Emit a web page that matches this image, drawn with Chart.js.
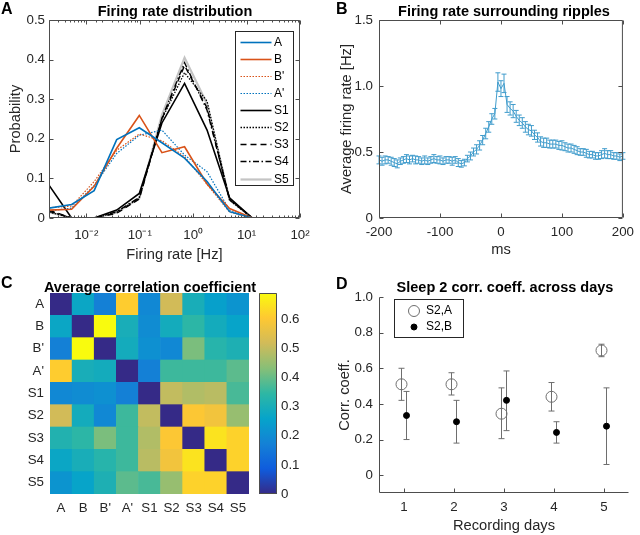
<!DOCTYPE html>
<html lang="en">
<head>
<meta charset="UTF-8">
<title>Firing rates and correlations</title>
<script src="https://cdn.jsdelivr.net/npm/chart.js"></script>
<style>
    body { margin: 0; background: #fff; font-family: "Liberation Sans", Arial, sans-serif; }
    .fig { position: relative; width: 640px; height: 535px; overflow: hidden; }
    .fig canvas { position: absolute; }
    .letter { position: absolute; font-weight: bold; font-size: 16px; line-height: 1; color: #000; }
    .ttl { position: absolute; width: 300px; font-weight: bold; font-size: 14.5px; line-height: 1; color: #000; text-align: center; white-space: nowrap; }
</style>
</head>
<body>
<div class="fig">
    <canvas id="chartA" width="320" height="265" style="left:0;top:0"></canvas>
    <canvas id="chartB" width="320" height="265" style="left:320px;top:0"></canvas>
    <canvas id="chartC" width="255" height="270" style="left:0;top:265px"></canvas>
    <canvas id="chartCbar" width="70" height="270" style="left:250px;top:265px"></canvas>
    <canvas id="chartD" width="320" height="270" style="left:320px;top:265px"></canvas>

    <div class="letter" style="left:1px;top:1px">A</div>
    <div class="letter" style="left:336px;top:1px">B</div>
    <div class="letter" style="left:1px;top:275px">C</div>
    <div class="letter" style="left:336px;top:276px">D</div>

    <div class="ttl" style="left:25px;top:4px">Firing rate distribution</div>
    <div class="ttl" style="left:354px;top:4px">Firing rate surrounding ripples</div>
    <div class="ttl" style="left:0px;top:280px">Average correlation coefficient</div>
    <div class="ttl" style="left:355px;top:280px">Sleep 2 corr. coeff. across days</div>
</div>

<script>
// ---- A: firing rate distribution (log-spaced bins) ----
const rateBins = [0.002, 0.0053, 0.014, 0.037, 0.098, 0.26, 0.69, 1.82, 4.8, 12.8];
const probA  = [0.025, 0.034, 0.069, 0.198, 0.228, 0.190, 0.151, 0.092, 0.016, 0];
const probB  = [0.020, 0.022, 0.080, 0.176, 0.259, 0.165, 0.180, 0.086, 0.024, 0];
const probB2 = [0.026, 0.030, 0.092, 0.171, 0.212, 0.195, 0.155, 0.085, 0.015, 0];
const probA2 = [0.018, 0.025, 0.082, 0.163, 0.209, 0.222, 0.159, 0.117, 0.020, 0];
const probS1 = [0.083, 0, 0, 0.020, 0.062, 0.240, 0.340, 0.222, 0.051, 0];
const probS2 = [0.015, 0, 0, 0.015, 0.050, 0.250, 0.367, 0.295, 0.045, 0];
const probS3 = [0.020, 0, 0, 0.012, 0.048, 0.250, 0.385, 0.278, 0.046, 0];
const probS4 = [0.017, 0, 0, 0.016, 0.052, 0.252, 0.392, 0.272, 0.048, 0];
const probS5 = [0.015, 0, 0, 0.014, 0.050, 0.260, 0.405, 0.288, 0.046, 0];

// ---- B: firing rate around ripples, 5 ms bins from -200 to 200 ----
const rateB = [
    0.44, 0.43, 0.44, 0.44, 0.43, 0.42, 0.41, 0.43, 0.44, 0.45, 0.44, 0.45, 0.44, 0.44, 0.43,
    0.44, 0.43, 0.44, 0.45, 0.44, 0.44, 0.43, 0.44, 0.44, 0.43, 0.44, 0.42, 0.41, 0.42,
    0.45, 0.47, 0.50, 0.52, 0.55, 0.59, 0.64, 0.69, 0.75, 0.79,
    1.03, 0.98, 1.02,
    0.86, 0.83, 0.81, 0.77, 0.74, 0.72, 0.69, 0.67, 0.66, 0.63, 0.61, 0.58, 0.57,
    0.57, 0.56, 0.56, 0.56, 0.55, 0.55, 0.54, 0.53, 0.53, 0.52, 0.51, 0.50, 0.50,
    0.49, 0.48, 0.48, 0.47, 0.47, 0.48, 0.49, 0.48, 0.48, 0.47, 0.47, 0.46, 0.47
];
const semB = [
    0.03, 0.03, 0.03, 0.025, 0.03, 0.03, 0.03, 0.025, 0.025, 0.03, 0.03, 0.025, 0.03, 0.025, 0.025,
    0.03, 0.025, 0.025, 0.03, 0.025, 0.03, 0.025, 0.025, 0.025, 0.03, 0.025, 0.03, 0.025, 0.025,
    0.025, 0.03, 0.03, 0.035, 0.035, 0.035, 0.04, 0.04, 0.04, 0.04,
    0.07, 0.06, 0.07,
    0.06, 0.05, 0.05, 0.045, 0.04, 0.04, 0.04, 0.04, 0.04, 0.035, 0.035, 0.035, 0.035,
    0.035, 0.03, 0.03, 0.03, 0.03, 0.035, 0.03, 0.03, 0.03, 0.03, 0.03, 0.025, 0.025,
    0.03, 0.025, 0.025, 0.025, 0.025, 0.03, 0.035, 0.03, 0.03, 0.025, 0.025, 0.025, 0.025
];
const lagMs = rateB.map((_, i) => -200 + 5 * i);

// ---- C: correlation matrix ----
const epochLabels = ['A', 'B', "B'", "A'", 'S1', 'S2', 'S3', 'S4', 'S5'];
const corrMatrix = [
    [0.00, 0.27, 0.17, 0.61, 0.19, 0.52, 0.30, 0.25, 0.22],
    [0.27, 0.00, 0.69, 0.30, 0.20, 0.29, 0.34, 0.29, 0.26],
    [0.17, 0.69, 0.00, 0.29, 0.21, 0.19, 0.42, 0.33, 0.31],
    [0.61, 0.30, 0.29, 0.00, 0.17, 0.36, 0.36, 0.36, 0.39],
    [0.19, 0.20, 0.21, 0.17, 0.00, 0.50, 0.48, 0.49, 0.37],
    [0.52, 0.29, 0.19, 0.36, 0.50, 0.00, 0.60, 0.58, 0.45],
    [0.32, 0.34, 0.42, 0.36, 0.48, 0.60, 0.00, 0.65, 0.62],
    [0.27, 0.30, 0.33, 0.36, 0.49, 0.58, 0.65, 0.00, 0.62],
    [0.22, 0.26, 0.31, 0.39, 0.37, 0.45, 0.62, 0.62, 0.00]
];
const colorbarTicks = [0, 0.1, 0.2, 0.3, 0.4, 0.5, 0.6];

// ---- D: sleep 2 correlation across days ----
const days = [1, 2, 3, 4, 5];
const s2aMean = [0.51, 0.51, 0.345, 0.44, 0.70];
const s2aLo   = [0.42, 0.45, 0.205, 0.36, 0.665];
const s2aHi   = [0.60, 0.575, 0.49, 0.52, 0.735];
const s2bMean = [0.335, 0.30, 0.42, 0.24, 0.275];
const s2bLo   = [0.20, 0.18, 0.25, 0.18, 0.06];
const s2bHi   = [0.47, 0.42, 0.585, 0.30, 0.49];

Chart.defaults.font.family = '"Liberation Sans", Arial, Helvetica, sans-serif';
Chart.defaults.font.size = 13.3;
Chart.defaults.color = '#262626';
Chart.defaults.animation = false;
Chart.defaults.responsive = false;
Chart.defaults.plugins.legend.display = false;
Chart.defaults.plugins.tooltip.enabled = false;

const axisFont = { size: 14.7 };
const noGrid = { display: false, drawTicks: false };
const noBorder = { display: false };

// parula colormap
const parulaStops = ['#352A87', '#0F5CDD', '#1481D6', '#06A4CA', '#2EB7A4', '#87BF77', '#D1BB59', '#FEC832', '#F9FB0E'];
function hexRgb(h) {
    return [1, 3, 5].map(k => parseInt(h.substr(k, 2), 16));
}
function parula(t) {
    t = Math.min(1, Math.max(0, t)) * (parulaStops.length - 1);
    const i = Math.min(Math.floor(t), parulaStops.length - 2);
    const f = t - i;
    const a = hexRgb(parulaStops[i]), b = hexRgb(parulaStops[i + 1]);
    return 'rgb(' + a.map((v, k) => Math.round(v + (b[k] - v) * f)).join(',') + ')';
}

// matlab style axes: box lines and inward ticks
function axesBox(cfg) {
    return {
        id: 'axesBox',
        afterDatasetsDraw(chart) {
            const { ctx, chartArea: a, scales } = chart;
            const L = a.left + 0.5, R = a.right - 0.5, T = a.top + 0.5, B = a.bottom - 0.5;
            ctx.save();
            ctx.strokeStyle = cfg.color || '#4d4d4d';
            ctx.lineWidth = 1;
            ctx.beginPath();
            ctx.moveTo(L, T); ctx.lineTo(L, B); ctx.lineTo(R, B);
            if (cfg.box) { ctx.lineTo(R, T); ctx.lineTo(L, T); }
            if (!cfg.noTicks) {
                scales.x.ticks.forEach(t => {
                    const px = Math.round(scales.x.getPixelForValue(t.value)) + 0.5;
                    const len = cfg.minorX && cfg.minorX(t.value) ? 2 : 4;
                    ctx.moveTo(px, B); ctx.lineTo(px, B - len);
                    if (cfg.box) { ctx.moveTo(px, T); ctx.lineTo(px, T + len); }
                });
                scales.y.ticks.forEach(t => {
                    const py = Math.round(scales.y.getPixelForValue(t.value)) + 0.5;
                    ctx.moveTo(L, py); ctx.lineTo(L + 4, py);
                    if (cfg.box) { ctx.moveTo(R, py); ctx.lineTo(R - 4, py); }
                });
            }
            ctx.stroke();
            ctx.restore();
        }
    };
}

// error bars from dataset errLo / errHi
const errorBars = {
    id: 'errorBars',
    beforeDatasetsDraw(chart) {
        const { ctx } = chart;
        const ys = chart.scales.y;
        chart.data.datasets.forEach((ds, i) => {
            if (!ds.errLo) return;
            const meta = chart.getDatasetMeta(i);
            const c = ds.capHalf;
            ctx.save();
            ctx.strokeStyle = ds.errColor;
            ctx.lineWidth = 1;
            ctx.beginPath();
            meta.data.forEach((pt, j) => {
                const x = pt.x;
                const lo = ys.getPixelForValue(ds.errLo[j]);
                const hi = ys.getPixelForValue(ds.errHi[j]);
                ctx.moveTo(x, lo); ctx.lineTo(x, hi);
                ctx.moveTo(x - c, lo); ctx.lineTo(x + c, lo);
                ctx.moveTo(x - c, hi); ctx.lineTo(x + c, hi);
            });
            ctx.stroke();
            ctx.restore();
        });
    }
};

// ---------- Panel A ----------
const supMap = { '-': '\u207B', '0': '\u2070', '1': '\u00B9', '2': '\u00B2', '3': '\u00B3' };
function isPow10(v) {
    const e = Math.log10(v);
    return Math.abs(e - Math.round(e)) < 1e-6;
}
function seriesA(label, values, color, width, dash) {
    return {
        label: label,
        data: rateBins.map((x, i) => ({ x: x, y: values[i] })),
        borderColor: color,
        borderWidth: width,
        borderDash: dash,
        pointRadius: 0,
        fill: false,
        tension: 0
    };
}
const legendA = {
    id: 'legendA',
    afterDraw(chart) {
        const { ctx, chartArea: a } = chart;
        const w = 58, h = 154, x0 = a.right - 7 - w, y0 = a.top + 11;
        ctx.save();
        ctx.fillStyle = '#fff';
        ctx.fillRect(x0, y0, w, h);
        ctx.strokeStyle = '#262626';
        ctx.lineWidth = 1;
        ctx.strokeRect(x0 + 0.5, y0 + 0.5, w, h);
        ctx.font = '12px "Liberation Sans", Arial, sans-serif';
        ctx.textBaseline = 'middle';
        chart.data.datasets.forEach((ds, i) => {
            const y = Math.round(y0 + 10.7 + i * 17.1) + 0.5;
            ctx.strokeStyle = ds.borderColor;
            ctx.lineWidth = ds.borderWidth;
            ctx.setLineDash(ds.borderDash || []);
            ctx.beginPath();
            ctx.moveTo(x0 + 5.5, y);
            ctx.lineTo(x0 + 36.5, y);
            ctx.stroke();
            ctx.setLineDash([]);
            ctx.fillStyle = '#000';
            ctx.fillText(ds.label, x0 + 39, y);
        });
        ctx.restore();
    }
};

new Chart(document.getElementById('chartA'), {
    type: 'line',
    data: {
        datasets: [
            seriesA('A', probA, '#0072BD', 1.6, []),
            seriesA('B', probB, '#D95319', 1.6, []),
            seriesA("B'", probB2, '#D95319', 1.2, [1.5, 1.5]),
            seriesA("A'", probA2, '#0072BD', 1.2, [1.5, 1.5]),
            seriesA('S1', probS1, '#000000', 1.6, []),
            seriesA('S2', probS2, '#000000', 1.3, [1.5, 1.5]),
            seriesA('S3', probS3, '#000000', 1.4, [6, 4]),
            seriesA('S4', probS4, '#000000', 1.4, [6, 2.5, 1.5, 2.5]),
            seriesA('S5', probS5, '#c4c4c4', 2.2, [])
        ]
    },
    options: {
        layout: { padding: { top: 20, right: 20, bottom: 0, left: 0 } },
        scales: {
            x: {
                type: 'logarithmic', min: 0.002, max: 100,
                grid: noGrid, border: noBorder,
                afterFit(s) { s.height = 47; },
                ticks: {
                    autoSkip: false, maxRotation: 0, padding: 9,
                    callback(v) {
                        if (!isPow10(v)) return '';
                        const e = String(Math.round(Math.log10(v)));
                        return '10' + e.split('').map(c => supMap[c]).join('');
                    }
                },
                title: { display: true, text: 'Firing rate [Hz]', font: axisFont, padding: { top: 0, bottom: 1 } }
            },
            y: {
                min: 0, max: 0.5,
                grid: noGrid, border: noBorder,
                afterFit(s) { s.width = 49; },
                ticks: { stepSize: 0.1, padding: 4 },
                title: { display: true, text: 'Probability', font: axisFont, padding: { top: 7, bottom: 0 } }
            }
        }
    },
    plugins: [axesBox({ box: true, minorX: v => !isPow10(v) }), legendA]
});

// ---------- Panel B ----------
const blueB = 'rgb(64,156,204)';
new Chart(document.getElementById('chartB'), {
    type: 'line',
    data: {
        datasets: [{
            label: 'Average firing rate',
            data: lagMs.map((x, i) => ({ x: x, y: rateB[i] })),
            borderColor: blueB,
            borderWidth: 1,
            pointRadius: 0,
            tension: 0,
            errLo: rateB.map((v, i) => v - semB[i]),
            errHi: rateB.map((v, i) => v + semB[i]),
            errColor: blueB,
            capHalf: 2.5
        }]
    },
    options: {
        layout: { padding: { top: 20, right: 11, bottom: 0, left: 0 } },
        scales: {
            x: {
                type: 'linear', min: -200, max: 200,
                grid: noGrid, border: noBorder,
                afterFit(s) { s.height = 47; },
                ticks: { stepSize: 100, maxRotation: 0, padding: 6 },
                title: { display: true, text: 'ms', font: axisFont, padding: { top: 0, bottom: 6 } }
            },
            y: {
                min: 0, max: 1.5,
                grid: noGrid, border: noBorder,
                afterFit(s) { s.width = 59; },
                ticks: { stepSize: 0.5, padding: 6 },
                title: { display: true, text: 'Average firing rate [Hz]', font: axisFont, padding: { top: 18, bottom: 0 } }
            }
        }
    },
    plugins: [errorBars, axesBox({ box: true })]
});

// ---------- Panel C: heatmap as stacked cells ----------
const cMax = Math.max(...corrMatrix.flat());
const heatSets = [];
for (let r = epochLabels.length - 1; r >= 0; r--) {
    heatSets.push({
        label: epochLabels[r],
        data: epochLabels.map(() => 1),
        backgroundColor: corrMatrix[r].map(v => parula(v / cMax)),
        borderWidth: 0,
        barPercentage: 1,
        categoryPercentage: 1
    });
}
new Chart(document.getElementById('chartC'), {
    type: 'bar',
    data: { labels: epochLabels, datasets: heatSets },
    options: {
        layout: { padding: { top: 28, right: 6, bottom: 0, left: 0 } },
        scales: {
            x: {
                stacked: true, grid: noGrid, border: noBorder,
                afterFit(s) { s.height = 41; },
                ticks: { maxRotation: 0, autoSkip: false, padding: 6 }
            },
            y: {
                stacked: true, min: 0, max: epochLabels.length,
                grid: noGrid, border: noBorder,
                afterFit(s) { s.width = 50; },
                afterBuildTicks(s) {
                    s.ticks = epochLabels.map((_, i) => ({ value: epochLabels.length - 0.5 - i }));
                },
                ticks: { autoSkip: false, padding: 6, callback: (v, i) => epochLabels[i] }
            }
        }
    }
});

// colorbar
new Chart(document.getElementById('chartCbar'), {
    type: 'bar',
    data: {
        labels: [''],
        datasets: [{
            data: [cMax],
            borderWidth: 0,
            barPercentage: 1,
            categoryPercentage: 1,
            backgroundColor(c) {
                const a = c.chart.chartArea;
                if (!a) return null;
                const g = c.chart.ctx.createLinearGradient(0, a.bottom, 0, a.top);
                parulaStops.forEach((s, i) => g.addColorStop(i / (parulaStops.length - 1), s));
                return g;
            }
        }]
    },
    options: {
        layout: { padding: { top: 28, right: 0, bottom: 41, left: 9 } },
        scales: {
            x: { display: false },
            y: {
                position: 'right', min: 0, max: cMax,
                grid: noGrid, border: noBorder,
                afterFit(s) { s.width = 43; },
                afterBuildTicks(s) { s.ticks = colorbarTicks.map(v => ({ value: v })); },
                ticks: { padding: 4 }
            }
        }
    },
    plugins: [axesBox({ box: true, noTicks: true })]
});

// ---------- Panel D ----------
const legendD = {
    id: 'legendD',
    afterDraw(chart) {
        const { ctx, chartArea: a } = chart;
        const x0 = a.left + 15, y0 = a.top + 2, w = 69, h = 38;
        ctx.save();
        ctx.fillStyle = '#fff';
        ctx.fillRect(x0, y0, w, h);
        ctx.strokeStyle = '#262626';
        ctx.lineWidth = 1;
        ctx.strokeRect(x0 + 0.5, y0 + 0.5, w, h);
        ctx.font = '12px "Liberation Sans", Arial, sans-serif';
        ctx.textBaseline = 'middle';
        chart.data.datasets.forEach((ds, i) => {
            const y = y0 + 12 + i * 16;
            ctx.beginPath();
            ctx.arc(x0 + 20, y, ds.pointRadius, 0, 2 * Math.PI);
            ctx.fillStyle = ds.pointBackgroundColor;
            ctx.fill();
            ctx.strokeStyle = ds.pointBorderColor;
            ctx.lineWidth = ds.pointBorderWidth;
            ctx.stroke();
            ctx.fillStyle = '#000';
            ctx.fillText(ds.label, x0 + 32, y);
        });
        ctx.restore();
    }
};
new Chart(document.getElementById('chartD'), {
    type: 'scatter',
    data: {
        datasets: [
            {
                label: 'S2,A',
                data: days.map((d, i) => ({ x: d - 0.05, y: s2aMean[i] })),
                pointRadius: 5.5,
                pointBackgroundColor: 'rgba(255,255,255,0)',
                pointBorderColor: '#6e6e6e',
                pointBorderWidth: 1,
                errLo: s2aLo, errHi: s2aHi, errColor: '#6e6e6e', capHalf: 3
            },
            {
                label: 'S2,B',
                data: days.map((d, i) => ({ x: d + 0.05, y: s2bMean[i] })),
                pointRadius: 3,
                pointBackgroundColor: '#000',
                pointBorderColor: '#000',
                pointBorderWidth: 1,
                errLo: s2bLo, errHi: s2bHi, errColor: '#6e6e6e', capHalf: 3
            }
        ]
    },
    options: {
        layout: { padding: { top: 32, right: 11, bottom: 0, left: 0 } },
        scales: {
            x: {
                type: 'linear', min: 0.5, max: 5.5,
                grid: noGrid, border: noBorder,
                afterFit(s) { s.height = 42; },
                afterBuildTicks(s) { s.ticks = days.map(v => ({ value: v })); },
                ticks: { padding: 6 },
                title: { display: true, text: 'Recording days', font: axisFont, padding: { top: 0, bottom: 0 } }
            },
            y: {
                min: -0.1, max: 1,
                grid: noGrid, border: noBorder,
                afterFit(s) { s.width = 59; },
                ticks: { stepSize: 0.2, includeBounds: false, padding: 6 },
                title: { display: true, text: 'Corr. coeff.', font: axisFont, padding: { top: 16, bottom: 0 } }
            }
        }
    },
    plugins: [errorBars, axesBox({ box: false }), legendD]
});
</script>
</body>
</html>
